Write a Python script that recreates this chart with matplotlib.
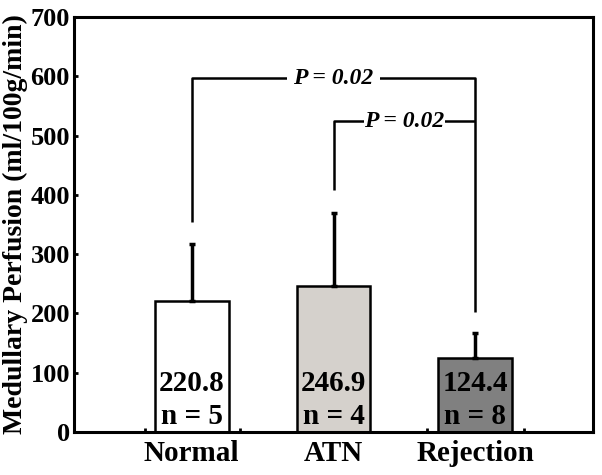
import numpy as np
import matplotlib.pyplot as plt

groups = ['Normal', 'ATN', 'Rejection']
means = [220.8, 246.9, 124.4]
errors = [96, 122, 43]
n_counts = [5, 4, 8]
colors = ['white', '#d5d1cc', '#808080']

plt.rcParams['font.family'] = 'Liberation Serif'
plt.rcParams['font.weight'] = 'bold'

fig = plt.figure(figsize=(6.02, 4.75), dpi=100)
ax = fig.add_axes([0.123, 0.0905, 0.862, 0.8735])

x = np.arange(1, len(groups) + 1)
ax.bar(x, means, width=0.52, color=colors, edgecolor='black', linewidth=1.8, zorder=2)
ax.errorbar(x, means, yerr=[np.zeros(3), errors], fmt='none', ecolor='black',
            elinewidth=2.5, capsize=2.5, capthick=2.5, zorder=3)

for xi, m, n in zip(x, means, n_counts):
    ax.text(xi, 82, f'{m}', ha='center', va='center', fontsize=21, fontweight='bold', zorder=4)
    ax.text(xi, 26, f'n = {n}', ha='center', va='center', fontsize=21, fontweight='bold', zorder=4)

# significance brackets
lw = 1.8
ax.plot([1, 1, 3, 3], [354, 597, 597, 202], color='black', lw=lw, solid_capstyle='butt')
ax.text(2.0, 597, 'P = 0.02', ha='center', va='center', fontsize=17, fontweight='bold',
        style='italic', bbox=dict(facecolor='white', edgecolor='none', pad=5))
ax.plot([2, 2, 3], [408, 524, 524], color='black', lw=lw, solid_capstyle='butt')
ax.text(2.5, 524, 'P = 0.02', ha='center', va='center', fontsize=17, fontweight='bold',
        style='italic', bbox=dict(facecolor='white', edgecolor='none', pad=0.5))

ax.set_xlim(0.17, 3.83)
ax.set_ylim(0, 700)
ax.set_yticks(range(0, 701, 100))
ax.set_xticks(x)
ax.set_xticklabels(groups)
ax.set_xticks([0.669, 1.338, 2.662, 3.345], minor=True)
ax.tick_params(axis='x', which='major', length=0, pad=6, labelsize=21)
ax.tick_params(axis='x', which='minor', direction='in', length=3, width=2)
ax.tick_params(axis='y', direction='in', length=3, width=2, labelsize=19, pad=3)
for lab in ax.get_xticklabels() + ax.get_yticklabels():
    lab.set_fontweight('bold')
for s in ax.spines.values():
    s.set_linewidth(2.2)

ax.set_ylabel('Medullary Perfusion (ml/100g/min)', fontsize=20, fontweight='bold', labelpad=2)

fig.savefig('out.png', dpi=100)
